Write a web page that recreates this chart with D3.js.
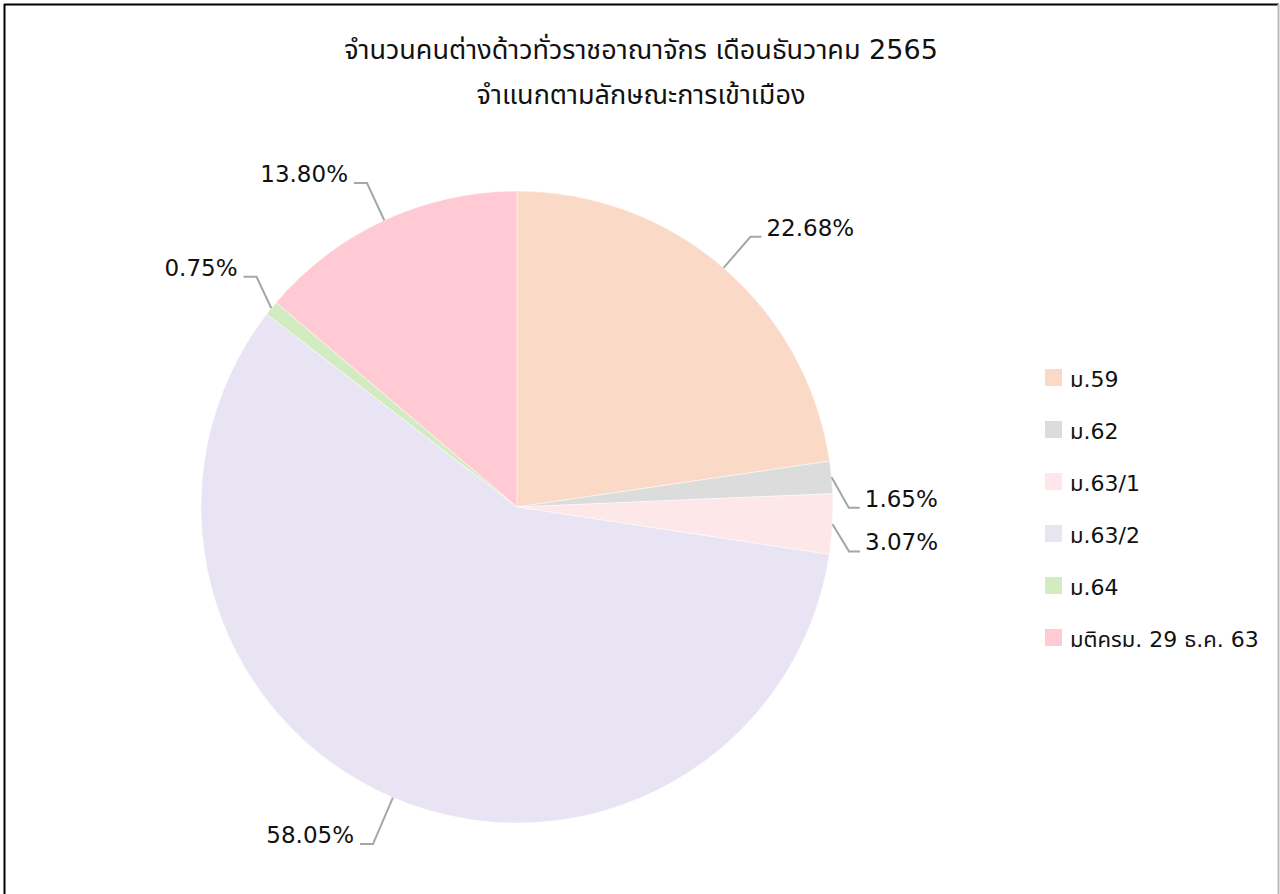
<!DOCTYPE html>
<html>
<head>
<meta charset="utf-8">
<script src="https://cdn.jsdelivr.net/npm/d3@7"></script>
<style>
  body { margin: 0; background: #fff; }
  text { font-family: "DejaVu Sans", "Noto Sans Thai", "Noto Sans", sans-serif; fill: #111; }
</style>
</head>
<body>
<div id="chart-area"></div>
<script>
// data
var categories = ["ม.59", "ม.62", "ม.63/1", "ม.63/2", "ม.64", "มติครม. 29 ธ.ค. 63"];
var shares = [22.68, 1.65, 3.07, 58.05, 0.75, 13.80];
var colors = ["#fad9c6", "#dcdcdc", "#fde7e9", "#e9e4f3", "#d3ebc1", "#ffcad4"];
var titleLines = ["จำนวนคนต่างด้าวทั่วราชอาณาจักร เดือนธันวาคม 2565", "จำแนกตามลักษณะการเข้าเมือง"];

// layout
var width = 1280, height = 894;
var cx = 517, cy = 507, radius = 316;
// small nudges for crowded labels (degrees / radius factor)
var labelAngleShift = [0, 5.5, 4.5, 0, 2.5, 0];
var labelRadiusK = [1.13, 1.05, 1.06, 1.16, 1.10, 1.13];

var svg = d3.select("#chart-area").append("svg")
    .attr("width", width)
    .attr("height", height);

// frame
svg.append("line").attr("x1", 4).attr("y1", 4.5).attr("x2", 1279).attr("y2", 4.5)
    .attr("stroke", "#000").attr("stroke-width", 2);
svg.append("line").attr("x1", 4.5).attr("y1", 4).attr("x2", 4.5).attr("y2", height)
    .attr("stroke", "#000").attr("stroke-width", 2);
svg.append("line").attr("x1", 1278.5).attr("y1", 4).attr("x2", 1278.5).attr("y2", height)
    .attr("stroke", "#bbb").attr("stroke-width", 2);

// title
svg.selectAll(".title")
    .data(titleLines)
    .enter()
    .append("text")
    .attr("class", "title")
    .attr("x", 641)
    .attr("y", (d, i) => 59 + i * 45)
    .attr("text-anchor", "middle")
    .attr("font-size", "27px")
    .text(d => d);

var data = categories.map((c, i) => ({ name: c, value: shares[i], color: colors[i], idx: i }));

var pie = d3.pie().sort(null).value(d => d.value);
var arc = d3.arc().innerRadius(0).outerRadius(radius);
var arcs = pie(data);

var g = svg.append("g").attr("transform", "translate(" + cx + "," + cy + ")");

g.selectAll("path.slice")
    .data(arcs)
    .enter()
    .append("path")
    .attr("class", "slice")
    .attr("d", arc)
    .attr("fill", d => d.data.color)
    .attr("stroke", "#fff")
    .attr("stroke-width", 0.5);

// labels with leader lines
arcs.forEach((d, i) => {
  var mid = (d.startAngle + d.endAngle) / 2;
  var p0 = [radius * Math.sin(mid), -radius * Math.cos(mid)];
  var a2 = mid + labelAngleShift[i] * Math.PI / 180;
  var r2 = radius * labelRadiusK[i];
  var p1 = [r2 * Math.sin(a2), -r2 * Math.cos(a2)];
  var right = Math.sin(mid) > 0;
  var p2 = [p1[0] + (right ? 11 : -13), p1[1]];
  g.append("polyline")
      .attr("points", [p0, p1, p2].map(p => p.join(",")).join(" "))
      .attr("fill", "none")
      .attr("stroke", "#a6a6a6")
      .attr("stroke-width", 2);
  g.append("text")
      .attr("x", p2[0] + (right ? 5 : -6))
      .attr("y", p1[1])
      .attr("dy", "-0.05em")
      .attr("text-anchor", right ? "start" : "end")
      .attr("font-size", "23px")
      .text(d.data.value.toFixed(2) + "%");
});

// legend
var legend = svg.append("g").attr("transform", "translate(1045,378)");
var rows = legend.selectAll("g.row")
    .data(data)
    .enter()
    .append("g")
    .attr("class", "row")
    .attr("transform", (d, i) => "translate(0," + (i * 52) + ")");
rows.append("rect")
    .attr("x", 0).attr("y", -9)
    .attr("width", 17).attr("height", 17)
    .attr("fill", d => d.color);
rows.append("text")
    .attr("x", 25)
    .attr("y", 9)
    .attr("font-size", "22px")
    .text(d => d.name);
</script>
</body>
</html>
